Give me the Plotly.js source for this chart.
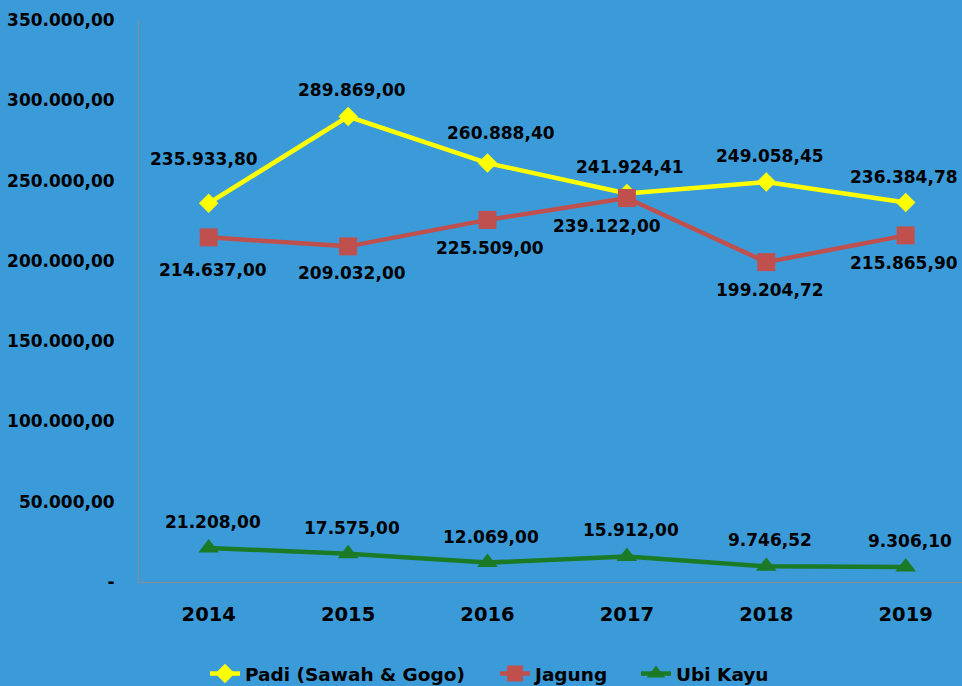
<!DOCTYPE html>
<html><head><meta charset="utf-8">
<script src="https://cdn.plot.ly/plotly-3.0.1.min.js"></script>
<style>html,body{margin:0;padding:0;background:#3b9bd9;}#chart{width:962px;height:686px;}</style>
</head><body><div id="chart"></div>
<script>
// ---- data ----
const years = ['2014', '2015', '2016', '2017', '2018', '2019'];
const padi = [235933.80, 289869.00, 260888.40, 241924.41, 249058.45, 236384.78];
const jagung = [214637.00, 209032.00, 225509.00, 239122.00, 199204.72, 215865.90];
const ubiKayu = [21208.00, 17575.00, 12069.00, 15912.00, 9746.52, 9306.10];
const seriesNames = ['Padi (Sawah & Gogo)', 'Jagung', 'Ubi Kayu'];
const yTickVals = [0, 50000, 100000, 150000, 200000, 250000, 300000, 350000];

// ---- label placement (styling, separate from data) ----
const padiLabelDx = [-5, 4, 14, 3, 4, -2];
const padiLabelDy = [44, 27, 30, 27, 26, 25];
const jagungLabelDx = [4, 4, 3, -20, 4, -2];
const jagungLabelDy = [-33, -27, -28, -28, -28, -28];
const ubiLabelDx = [4, 4, 4, 4, 4, 4];
const ubiLabelDy = [26, 26, 26, 26, 26, 26];

function fmt(v) {
  if (v === 0) return '-';
  const parts = v.toFixed(2).split('.');
  const intPart = parts[0].replace(/\B(?=(\d{3})+(?!\d))/g, '.');
  return intPart + ',' + parts[1];
}

const FONT = 'DejaVu Sans, Verdana, sans-serif';
const colors = ['#ffff00', '#c0504d', '#1b7a26'];
const legendFont = {family: FONT, size: 18.5, color: '#000', weight: 'bold'};

const traces = [
  {x: years, y: padi, name: seriesNames[0], type: 'scatter', mode: 'lines+markers', legend: 'legend',
   line: {color: colors[0], width: 4.5}, marker: {symbol: 'diamond', size: 15, color: colors[0]}, cliponaxis: false},
  {x: years, y: jagung, name: seriesNames[1], type: 'scatter', mode: 'lines+markers', legend: 'legend2',
   line: {color: colors[1], width: 4.5}, marker: {symbol: 'square', size: 18, color: colors[1]}, cliponaxis: false},
  {x: years, y: ubiKayu, name: seriesNames[2], type: 'scatter', mode: 'lines+markers', legend: 'legend3',
   line: {color: colors[2], width: 4.5}, marker: {symbol: 'triangle-up', size: 18, color: colors[2]}, cliponaxis: false}
];

const annotations = [];
function addLabels(vals, dx, dy) {
  vals.forEach((v, i) => {
    annotations.push({x: i, y: v, xref: 'x', yref: 'y', text: fmt(v), showarrow: false,
      xshift: dx[i], yshift: dy[i], xanchor: 'center', yanchor: 'middle',
      font: {family: FONT, size: 17, color: '#000', weight: 'bold'}});
  });
}
addLabels(padi, padiLabelDx, padiLabelDy);
addLabels(jagung, jagungLabelDx, jagungLabelDy);
addLabels(ubiKayu, ubiLabelDx, ubiLabelDy);

function legendAt(xpx) {
  return {orientation: 'h', xref: 'container', yref: 'container', x: xpx / 962, xanchor: 'left',
    y: 12 / 686, yanchor: 'middle', bgcolor: 'rgba(0,0,0,0)', borderwidth: 0,
    font: legendFont, itemwidth: 30};
}

const layout = {
  width: 962, height: 686,
  paper_bgcolor: '#3b9bd9', plot_bgcolor: '#3b9bd9',
  margin: {l: 139, r: 0, t: 20, b: 104},
  showlegend: true,
  hovermode: false,
  xaxis: {type: 'category', range: [-0.5, 5.404], showgrid: false, zeroline: false,
    showline: true, linecolor: '#8c8c8c', linewidth: 1, ticks: '',
    ticklabelstandoff: 15,
    tickfont: {family: FONT, size: 19.5, color: '#000', weight: 'bold'}},
  yaxis: {range: [0, 350000], showgrid: false, zeroline: false,
    showline: true, linecolor: '#8c8c8c', linewidth: 1, ticks: '',
    tickvals: yTickVals, ticktext: yTickVals.map(fmt),
    ticklabelstandoff: 20,
    tickfont: {family: FONT, size: 17, color: '#000', weight: 'bold'}},
  legend: legendAt(205),
  legend2: legendAt(495),
  legend3: legendAt(636),
  annotations: annotations
};

Plotly.newPlot('chart', traces, layout, {displayModeBar: false, staticPlot: true});
</script>
</body></html>
